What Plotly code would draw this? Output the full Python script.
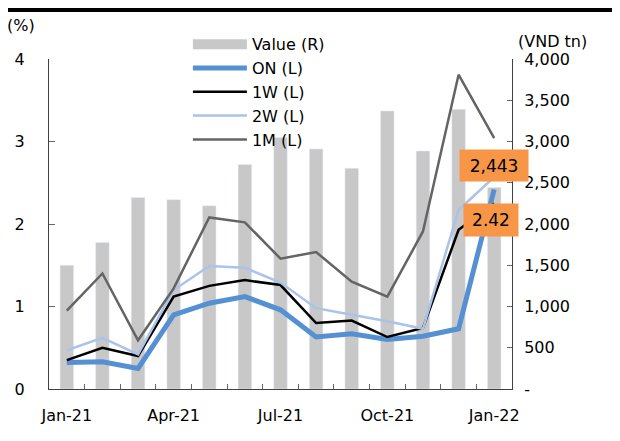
import plotly.graph_objects as go

months = ["Jan-21", "Feb-21", "Mar-21", "Apr-21", "May-21", "Jun-21", "Jul-21",
          "Aug-21", "Sep-21", "Oct-21", "Nov-21", "Dec-21", "Jan-22"]
month_labels = ["Jan-21", "", "", "Apr-21", "", "", "Jul-21", "", "", "Oct-21", "", "", "Jan-22"]

value_r = [1500, 1775, 2320, 2295, 2220, 2720, 3050, 2910, 2675, 3370, 2885, 3390, 2443]
on_l = [0.32, 0.33, 0.25, 0.90, 1.04, 1.12, 0.96, 0.63, 0.67, 0.60, 0.64, 0.73, 2.42]
w1_l = [0.35, 0.50, 0.40, 1.12, 1.25, 1.32, 1.26, 0.80, 0.83, 0.63, 0.74, 1.93, 2.25]
w2_l = [0.47, 0.62, 0.42, 1.20, 1.49, 1.47, 1.29, 0.98, 0.90, 0.82, 0.73, 2.17, 2.57]
m1_l = [0.95, 1.40, 0.59, 1.22, 2.08, 2.02, 1.58, 1.66, 1.30, 1.12, 1.91, 3.81, 3.04]

right_ticks = [0, 500, 1000, 1500, 2000, 2500, 3000, 3500, 4000]
right_ticktext = ["-", "500", "1,000", "1,500", "2,000", "2,500", "3,000", "3,500", "4,000"]
left_ticks = [0, 1, 2, 3, 4]

FONT = "DejaVu Sans, sans-serif"
BAR_C = "#C8C8C8"
ON_C = "#5591D2"
W1_C = "#000000"
W2_C = "#A9C3EA"
M1_C = "#646464"
ORANGE = "#F79646"

fig = go.Figure()
fig.add_trace(go.Bar(x=months, y=value_r, marker_color=BAR_C, width=0.38,
                     yaxis="y", showlegend=False, name="Value (R)"))
# legend proxy for the bar series
fig.add_trace(go.Scatter(x=[None], y=[None], mode="lines", name="Value (R)",
                         line=dict(color=BAR_C, width=11), yaxis="y2"))
fig.add_trace(go.Scatter(x=months, y=on_l, mode="lines", name="ON (L)",
                         line=dict(color=ON_C, width=5), yaxis="y2"))
fig.add_trace(go.Scatter(x=months, y=w1_l, mode="lines", name="1W (L)",
                         line=dict(color=W1_C, width=2.5), yaxis="y2"))
fig.add_trace(go.Scatter(x=months, y=w2_l, mode="lines", name="2W (L)",
                         line=dict(color=W2_C, width=2.5), yaxis="y2"))
fig.add_trace(go.Scatter(x=months, y=m1_l, mode="lines", name="1M (L)",
                         line=dict(color=M1_C, width=2.5), yaxis="y2"))

AX = "#404040"
TK = "#666666"
fig.update_layout(
    width=612, height=433,
    margin=dict(l=41, r=108, t=51, b=52, autoexpand=False),
    paper_bgcolor="white", plot_bgcolor="white",
    font=dict(family=FONT, size=16, color="black"),
    xaxis=dict(type="category", categoryorder="array", categoryarray=months,
               range=[-0.5, 12.5], tickvals=months, ticktext=month_labels,
               tickson="boundaries", ticks="inside", ticklen=5, tickcolor=TK,
               showline=True, linecolor=AX, linewidth=1, showgrid=False,
               zeroline=False, tickangle=0, automargin=False, ticklabelstandoff=12),
    yaxis=dict(side="right", range=[0, 4000], tickvals=right_ticks, ticktext=right_ticktext,
               ticks="inside", ticklen=5, tickcolor=TK, showline=True, linecolor=AX,
               linewidth=1, showgrid=False, zeroline=False, automargin=False,
               ticklabelstandoff=8),
    yaxis2=dict(side="left", overlaying="y", range=[0, 4], tickvals=left_ticks,
                ticks="inside", ticklen=6, tickcolor=TK, showline=True, linecolor=AX,
                linewidth=1, showgrid=False, zeroline=False, automargin=False,
                ticklabelstandoff=20),
    legend=dict(x=0.30, y=1.096, xanchor="left", yanchor="top", bgcolor="rgba(0,0,0,0)",
                itemwidth=54, font=dict(size=16), tracegroupgap=0),
    bargap=0.6,
)

fig.add_shape(type="line", xref="paper", yref="paper", x0=-0.2, x1=1.3,
              y0=1.1485, y1=1.1485, line=dict(color="black", width=4))

fig.add_annotation(text="(%)", xref="paper", yref="paper", x=-0.0615, y=1.103,
                   showarrow=False, xanchor="center", yanchor="middle", font=dict(size=16))
fig.add_annotation(text="(VND tn)", xref="paper", yref="paper", x=1.088, y=1.0545,
                   showarrow=False, xanchor="center", yanchor="middle", font=dict(size=16))

fig.add_annotation(text="2,443", x=months[-1], y=value_r[-1], xref="x", yref="y",
                   showarrow=False, yshift=22, bgcolor=ORANGE, borderpad=0,
                   width=68, height=31, font=dict(size=17, color="black"))
fig.add_annotation(text="2.42", x=months[-1], y=on_l[-1], xref="x", yref="y2",
                   showarrow=False, yshift=-31, xshift=-3, bgcolor=ORANGE, borderpad=0,
                   width=54, height=32, font=dict(size=17, color="black"))

fig.write_html("out.html")
